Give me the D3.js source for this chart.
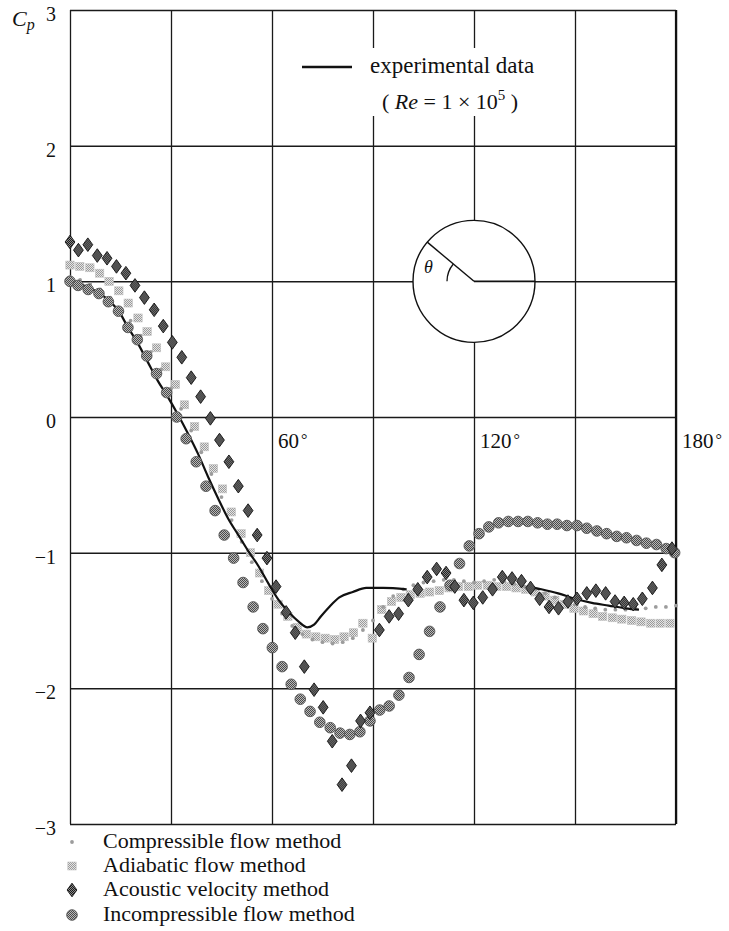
<!DOCTYPE html>
<html>
<head>
<meta charset="utf-8">
<script src="https://cdn.jsdelivr.net/npm/d3@7"></script>
<style>
  body { margin: 0; background: #fff; }
  svg { display: block; }
  text { font-family: "Liberation Serif", "DejaVu Serif", serif; fill: #111; }
</style>
</head>
<body>
<svg id="chart" width="729" height="931"></svg>
<script>
// Pressure coefficient Cp around a circular cylinder, angle θ in degrees.

const xGridTicks = [0, 30, 60, 90, 120, 150, 180];
const yTicks = [3, 2, 1, 0, -1, -2, -3];
const yTickLabels = ["3", "2", "1", "0", "\u22121", "\u22122", "\u22123"];
const xLabelTicks = [60, 120, 180];
const xTickLabels = ["60", "120", "180"];

const seriesNames = [
  "Compressible flow method",
  "Adiabatic flow method",
  "Acoustic velocity method",
  "Incompressible flow method"
];

// Experimental curve (Re = 1e5); null marks the gap in the measured trace
const experimentalTheta = [0, 5, 10, 15, 17, 20, 23, 26, 29, 32, 35, 38, 41, 44, 47, 50, 53, 56, 59, 62, 65, 68, 70.5, 72.5, 74.5, 77, 80, 84, 88, 93, 100,
  118, 136, 140, 145, 150, 155, 160, 165, 169];
const experimentalCp = [1.00, 0.96, 0.89, 0.76, 0.67, 0.55, 0.41, 0.27, 0.15, 0.02, -0.12, -0.27, -0.44, -0.60, -0.75, -0.87, -0.99, -1.10, -1.23, -1.35, -1.44, -1.51, -1.55, -1.53, -1.47, -1.40, -1.33, -1.29, -1.26, -1.26, -1.27,
  null, -1.25, -1.27, -1.30, -1.34, -1.37, -1.39, -1.41, -1.42];

const incompressibleTheta = [0, 2.4, 5.4, 8.6, 11.4, 14.4, 17.2, 20.0, 22.8, 25.7, 28.7, 31.7, 34.5, 37.5, 40.4, 43.1, 45.8, 48.6, 51.4, 54.4,
  57.3, 60.1, 63.0, 65.7, 68.4, 71.3, 74.2, 77.3, 80.2, 83.1, 86.1, 89.1, 92.0, 94.8, 97.7, 100.7, 103.7, 106.8, 109.9, 112.9,
  115.7, 118.6, 121.5, 124.4, 127.3, 130.2, 133.1, 136.0, 138.9, 141.8, 144.7, 147.6, 150.6, 153.5, 156.5, 159.4, 162.4, 165.3, 168.3, 171.2,
  174.2, 177.1, 179.6];
const incompressibleCp = [1.00, 0.97, 0.94, 0.91, 0.85, 0.78, 0.66, 0.57, 0.45, 0.32, 0.18, 0.00, -0.16, -0.33, -0.51, -0.69, -0.87, -1.04, -1.22, -1.40,
  -1.56, -1.70, -1.84, -1.97, -2.08, -2.17, -2.25, -2.29, -2.33, -2.34, -2.32, -2.24, -2.16, -2.13, -2.05, -1.92, -1.75, -1.58, -1.40, -1.24,
  -1.08, -0.95, -0.86, -0.81, -0.78, -0.77, -0.77, -0.77, -0.78, -0.79, -0.79, -0.80, -0.80, -0.82, -0.84, -0.86, -0.88, -0.89, -0.91, -0.93,
  -0.94, -0.97, -1.00];

const acousticTheta = [0, 2.5, 5.3, 8.1, 11, 13.8, 16.6, 19.3, 22.1, 25, 27.7, 30.4, 33.2, 36, 38.8, 41.7, 44.4, 47.2, 50, 52.9,
  55.6, 58.5, 61.2, 64.2, 66.9, 69.6, 72.5, 75.2, 77.9, 80.8, 83.6, 86.3, 89.1, 91.9, 94.8, 97.6, 100.5, 103.3, 106.1, 108.9,
  111.7, 114.3, 117, 119.8, 122.6, 125.5, 128.4, 131.3, 134.1, 136.8, 139.5, 142.3, 145.1, 147.9, 150.6, 153.5, 156.2, 159.1, 161.9, 164.6,
  167.3, 170, 173, 175.8, 178.8];
const acousticCp = [1.29, 1.23, 1.27, 1.19, 1.17, 1.11, 1.06, 0.97, 0.88, 0.79, 0.67, 0.55, 0.44, 0.29, 0.15, -0.01, -0.17, -0.33, -0.51, -0.69,
  -0.87, -1.04, -1.25, -1.44, -1.59, -1.84, -2.01, -2.14, -2.39, -2.71, -2.57, -2.24, -2.18, -1.57, -1.47, -1.45, -1.35, -1.27, -1.18, -1.12,
  -1.15, -1.25, -1.35, -1.37, -1.33, -1.27, -1.18, -1.19, -1.21, -1.26, -1.34, -1.40, -1.41, -1.36, -1.34, -1.30, -1.28, -1.30, -1.36, -1.37,
  -1.38, -1.34, -1.26, -1.09, -0.97];

const adiabaticTheta = [0, 2.9, 5.9, 8.8, 11.6, 14.5, 17.3, 20.2, 22.9, 25.7, 28.4, 31.3, 34.0, 37.0, 39.9, 42.6, 45.3, 47.9, 50.8, 53.6,
  56.3, 59.0, 61.8, 64.7, 67.5, 70.2, 73.0, 75.8, 78.6, 81.4, 84.2, 87.0, 89.8, 92.6, 95.5, 98.3, 101.1, 104.0, 106.8, 109.7,
  112.6, 115.4, 118.3, 121.1, 124.0, 126.8, 129.7, 132.5, 135.4, 138.2, 141.1, 144.0, 146.8, 149.7, 152.5, 155.4, 158.2, 161.1, 163.9, 166.8,
  169.6, 172.5, 175.3, 178.2];
const adiabaticCp = [1.12, 1.11, 1.10, 1.06, 1.00, 0.93, 0.84, 0.73, 0.63, 0.51, 0.37, 0.24, 0.09, -0.07, -0.22, -0.38, -0.53, -0.70, -0.86, -1.00,
  -1.15, -1.28, -1.38, -1.47, -1.55, -1.60, -1.62, -1.63, -1.64, -1.62, -1.59, -1.52, -1.63, -1.42, -1.36, -1.33, -1.31, -1.30, -1.29, -1.28,
  -1.26, -1.25, -1.25, -1.24, -1.24, -1.25, -1.25, -1.26, -1.27, -1.29, -1.32, -1.35, -1.38, -1.41, -1.43, -1.45, -1.47, -1.48, -1.49, -1.50,
  -1.51, -1.52, -1.52, -1.52];

const compressibleTheta = [0, 3, 6, 9, 12, 15, 18, 21, 24, 27, 30, 33, 36, 39, 42, 45, 48, 51, 54, 57,
  60, 63, 66, 69, 72, 75, 78, 81, 84, 87, 90, 93, 96, 99, 102, 105, 108, 111, 114, 117,
  120, 123, 126, 129, 132, 135, 138, 141, 144, 147, 150, 153, 156, 159, 162, 165, 168, 171, 174, 177, 180];
const compressibleCp = [1.03, 1.01, 0.98, 0.94, 0.88, 0.80, 0.71, 0.60, 0.48, 0.35, 0.21, 0.06, -0.10, -0.26, -0.42, -0.59, -0.76, -0.92, -1.07, -1.21,
  -1.34, -1.45, -1.54, -1.60, -1.64, -1.66, -1.67, -1.66, -1.63, -1.57, -1.50, -1.40, -1.32, -1.27, -1.24, -1.22, -1.21, -1.20, -1.20, -1.21,
  -1.22, -1.21, -1.20, -1.21, -1.23, -1.25, -1.27, -1.30, -1.33, -1.36, -1.38, -1.40, -1.41, -1.42, -1.42, -1.42, -1.41, -1.41, -1.40, -1.40, -1.39];

// ---------------------------------------------------------------------------
const svg = d3.select("#chart");
const x = d3.scaleLinear().domain([0, 180]).range([70, 676]);
const y = d3.scaleLinear().domain([-3, 3]).range([824, 10]);

// dithered fills
const defs = svg.append("defs");
function dither(id, bg, dot) {
  const p = defs.append("pattern").attr("id", id).attr("width", 2).attr("height", 2)
    .attr("patternUnits", "userSpaceOnUse");
  p.append("rect").attr("width", 2).attr("height", 2).attr("fill", bg);
  p.append("rect").attr("width", 1).attr("height", 1).attr("fill", dot);
  p.append("rect").attr("x", 1).attr("y", 1).attr("width", 1).attr("height", 1).attr("fill", dot);
}
dither("ditherMid", "#b8b8b8", "#4a4a4a");
dither("ditherDark", "#8a8a8a", "#1a1a1a");
dither("ditherLight", "#e4e4e4", "#9a9a9a");

// grid
const grid = svg.append("g");
grid.append("g")
  .attr("transform", `translate(0,${y(-3)})`)
  .call(d3.axisBottom(x).tickValues(xGridTicks).tickSize(-(y(-3) - y(3))).tickFormat(""))
  .call(g => g.select(".domain").remove())
  .call(g => g.selectAll("line").attr("stroke", "#1a1a1a").attr("stroke-width", 1.3));
grid.append("g")
  .attr("transform", `translate(${x(0)},0)`)
  .call(d3.axisLeft(y).tickValues(yTicks).tickSize(-(x(180) - x(0))).tickFormat(""))
  .call(g => g.select(".domain").remove())
  .call(g => g.selectAll("line").attr("stroke", "#1a1a1a").attr("stroke-width", 1.5));
svg.append("line").attr("x1", x(180)).attr("x2", x(180)).attr("y1", y(3)).attr("y2", y(-3))
  .attr("stroke", "#111").attr("stroke-width", 2.2);

// y tick labels
svg.append("g").selectAll("text").data(yTicks).join("text")
  .attr("x", 56).attr("y", d => y(d) + 11)
  .attr("text-anchor", "end").attr("font-size", 20)
  .text((d, i) => yTickLabels[i]);

// Cp axis title
const cp = svg.append("text").attr("x", 12).attr("y", 26).attr("font-size", 22).attr("font-style", "italic");
cp.append("tspan").text("C");
cp.append("tspan").attr("font-size", 16).attr("dy", 4).text("p");

// angle labels
const xl = svg.append("g").selectAll("text").data(xLabelTicks).join("text")
  .attr("x", d => x(d) + 6).attr("y", y(0) + 31).attr("font-size", 21);
xl.append("tspan").text((d, i) => xTickLabels[i]);
xl.append("tspan").attr("dx", 2).attr("font-size", 16).attr("dy", -3).text("\u00b0");

// inset: cylinder with angle θ
const cx = x(120), cyy = y(1), R = 61;
const ang = 140 * Math.PI / 180;
svg.append("circle").attr("cx", cx).attr("cy", cyy).attr("r", R)
  .attr("fill", "#fff").attr("stroke", "#111").attr("stroke-width", 1.4);
svg.append("line").attr("x1", cx).attr("y1", cyy).attr("x2", cx + R).attr("y2", cyy)
  .attr("stroke", "#111").attr("stroke-width", 1.8);
svg.append("line").attr("x1", cx).attr("y1", cyy)
  .attr("x2", cx + R * Math.cos(ang)).attr("y2", cyy - R * Math.sin(ang))
  .attr("stroke", "#111").attr("stroke-width", 1.4);
svg.append("path")
  .attr("d", d3.arc()({ innerRadius: 27, outerRadius: 27, startAngle: -Math.PI / 2, endAngle: -Math.PI / 2 + 40 * Math.PI / 180 }))
  .attr("transform", `translate(${cx},${cyy})`)
  .attr("fill", "none").attr("stroke", "#111").attr("stroke-width", 1.3);
svg.append("text").attr("x", cx - 50).attr("y", cyy - 8).attr("font-size", 18)
  .attr("font-style", "italic").text("\u03b8");

// experimental legend (white box over the grid)
svg.append("rect").attr("x", 298).attr("y", 48).attr("width", 248).attr("height", 68).attr("fill", "#fff");
svg.append("line").attr("x1", 302).attr("x2", 352).attr("y1", 67).attr("y2", 67)
  .attr("stroke", "#111").attr("stroke-width", 2.4);
svg.append("text").attr("x", 370).attr("y", 73).attr("font-size", 23).text("experimental data");
const re = svg.append("text").attr("x", 382).attr("y", 109).attr("font-size", 22);
re.append("tspan").text("( ");
re.append("tspan").attr("font-style", "italic").text("Re");
re.append("tspan").text(" = 1 \u00d7 10");
re.append("tspan").attr("font-size", 15).attr("dy", -9).text("5");
re.append("tspan").attr("dy", 9).text(" )");

// series data
const zipS = (t, v) => d3.zip(t, v);
const compressible = zipS(compressibleTheta, compressibleCp);
const adiabatic = zipS(adiabaticTheta, adiabaticCp);
const acoustic = zipS(acousticTheta, acousticCp);
const incompressible = zipS(incompressibleTheta, incompressibleCp);
const experimental = zipS(experimentalTheta, experimentalCp);

// marker painters
const diamondPath = "M0,-6.8L4.9,0L0,6.8L-4.9,0Z";
function drawAdiabatic(g, data) {
  g.selectAll("rect").data(data).join("rect")
    .attr("x", d => x(d[0]) - 4.2).attr("y", d => y(d[1]) - 4)
    .attr("width", 8.4).attr("height", 8)
    .attr("fill", "url(#ditherLight)").attr("stroke", "#c2c2c2").attr("stroke-width", 0.6);
}
function drawCompressible(g, data) {
  g.selectAll("circle").data(data).join("circle")
    .attr("cx", d => x(d[0])).attr("cy", d => y(d[1])).attr("r", 1.9)
    .attr("fill", "#9c9c9c");
}
function drawAcoustic(g, data) {
  g.selectAll("path").data(data).join("path")
    .attr("d", diamondPath)
    .attr("transform", d => `translate(${x(d[0])},${y(d[1])})`)
    .attr("fill", "url(#ditherDark)").attr("stroke", "#111").attr("stroke-width", 0.9);
}
function drawIncompressible(g, data) {
  g.selectAll("circle").data(data).join("circle")
    .attr("cx", d => x(d[0])).attr("cy", d => y(d[1])).attr("r", 5.3)
    .attr("fill", "url(#ditherMid)").attr("stroke", "#555").attr("stroke-width", 0.9);
}

drawAdiabatic(svg.append("g"), adiabatic);
drawCompressible(svg.append("g"), compressible);

const line = d3.line()
  .defined(d => d[1] !== null)
  .x(d => x(d[0])).y(d => y(d[1]))
  .curve(d3.curveMonotoneX);
svg.append("path").datum(experimental).attr("d", line)
  .attr("fill", "none").attr("stroke", "#111").attr("stroke-width", 2.2);

drawIncompressible(svg.append("g"), incompressible);
drawAcoustic(svg.append("g"), acoustic);

// method legend below the plot
const legendY = [842, 866, 890, 915];
const painters = [drawCompressible, drawAdiabatic, drawAcoustic, drawIncompressible];
seriesNames.forEach((name, i) => {
  const g = svg.append("g");
  // place a single marker at the legend slot via inverse scales
  painters[i](g, [[x.invert(72), y.invert(legendY[i])]]);
  svg.append("text").attr("x", 103).attr("y", legendY[i] + 6).attr("font-size", 22).text(name);
});
</script>
</body>
</html>
